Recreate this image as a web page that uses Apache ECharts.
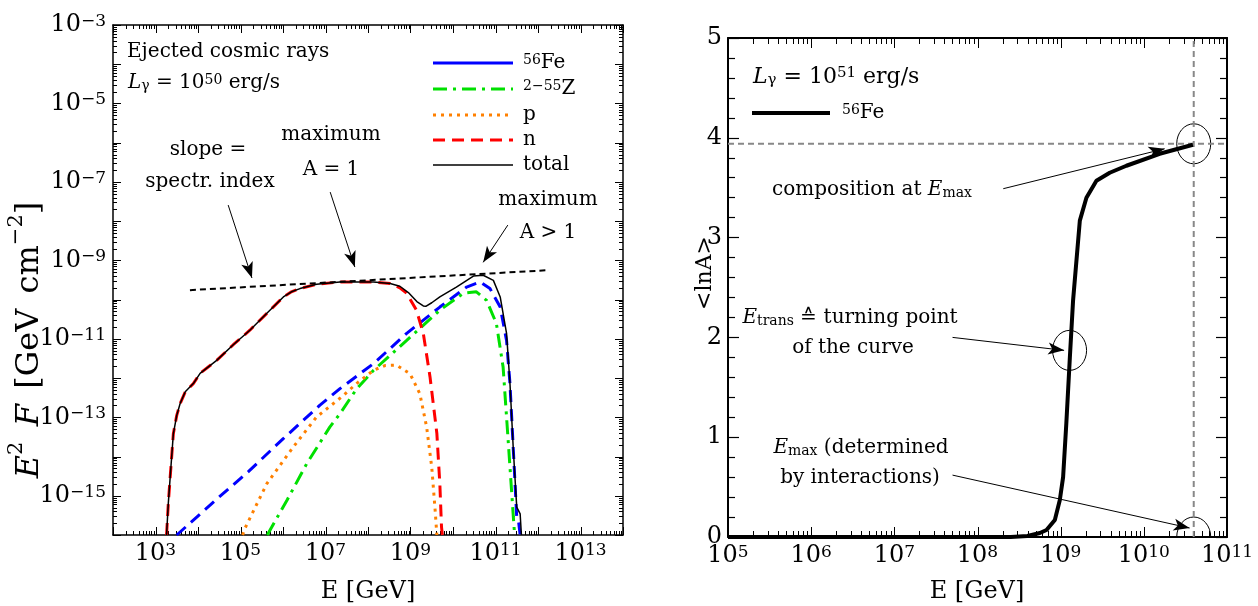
<!DOCTYPE html>
<html><head><meta charset="utf-8">
<script src="https://cdn.jsdelivr.net/npm/echarts@6/dist/echarts.min.js"></script>
<style>html,body{margin:0;padding:0;background:#fff}#c{width:1258px;height:606px}</style>
</head><body><div id="c"></div>
<script>
const FONT = 'DejaVu Serif';

// ---------- Left panel: E [GeV] vs E^2 F [GeV cm^-2] ----------
const feData = [[3.16e3,1.0e-16],[3.16e4,9.33e-16],[1.51e5,4.07e-15],[1.0e6,2.82e-14],[7.41e6,2.04e-13],[2.19e7,5.37e-13],[1.35e8,2.34e-12],[8.13e8,1.38e-11],[4.90e9,6.46e-11],[2.09e10,2.09e-10],[4.37e10,2.82e-10],[7.41e10,1.91e-10],[1.29e11,6.46e-11],[1.82e11,9.12e-12],[2.19e11,7.24e-13],[2.63e11,1.45e-14],[3.16e11,2.82e-16],[3.47e11,2.34e-16],[3.80e11,1.0e-16]];
const zData = [[4.27e5,1.0e-16],[1.26e6,7.94e-16],[3.63e6,6.61e-15],[1.26e7,5.62e-14],[2.19e7,1.23e-13],[3.80e7,3.02e-13],[5.37e7,5.25e-13],[1.35e8,1.58e-12],[8.13e8,9.12e-12],[4.90e9,5.37e-11],[1.74e10,1.45e-10],[3.55e10,1.58e-10],[6.17e10,9.55e-11],[1.05e11,2.45e-11],[1.51e11,1.91e-12],[1.82e11,1.02e-13],[2.19e11,5.37e-15],[2.63e11,2.88e-16],[2.82e11,1.0e-16]];
const pData = [[1.12e5,1.0e-16],[1.26e5,1.45e-16],[4.17e5,2.04e-15],[1.74e6,1.74e-14],[6.17e6,1.02e-13],[2.40e7,3.31e-13],[5.37e7,7.24e-13],[1.35e8,1.58e-12],[2.51e8,2.09e-12],[4.68e8,2.14e-12],[9.77e8,1.29e-12],[1.66e9,3.98e-13],[2.40e9,5.62e-14],[3.16e9,5.37e-15],[3.80e9,4.27e-16],[4.17e9,1.0e-16]];
const nData = [[1.82e3,1.0e-16],[2.0e3,6.31e-16],[2.19e3,2.51e-15],[2.63e3,3.80e-14],[3.16e3,1.12e-13],[3.80e3,2.24e-13],[5.01e3,4.47e-13],[7.76e3,7.24e-13],[1.12e4,1.32e-12],[2.75e4,2.82e-12],[6.76e4,7.08e-12],[1.66e5,1.66e-11],[4.17e5,4.47e-11],[1.02e6,1.17e-10],[1.58e6,1.58e-10],[2.51e6,1.91e-10],[6.17e6,2.45e-10],[2.19e7,2.82e-10],[1.35e8,2.82e-10],[3.31e8,2.57e-10],[5.62e8,2.0e-10],[8.13e8,1.45e-10],[1.38e9,5.37e-11],[2.0e9,1.38e-11],[2.88e9,1.07e-12],[4.17e9,3.89e-14],[4.90e9,2.04e-15],[5.37e9,1.58e-16],[5.62e9,1.0e-16]];
const totalData = [[1.82e3,1.0e-16],[2.0e3,6.31e-16],[2.19e3,2.51e-15],[2.63e3,3.80e-14],[3.16e3,1.12e-13],[3.80e3,2.24e-13],[5.01e3,4.47e-13],[7.76e3,7.24e-13],[1.12e4,1.32e-12],[2.75e4,2.82e-12],[6.76e4,7.08e-12],[1.66e5,1.66e-11],[4.17e5,4.47e-11],[1.02e6,1.17e-10],[1.58e6,1.58e-10],[2.51e6,1.91e-10],[6.17e6,2.45e-10],[2.19e7,2.82e-10],[1.35e8,2.82e-10],[3.31e8,2.57e-10],[5.62e8,2.19e-10],[8.91e8,1.51e-10],[1.41e9,8.91e-11],[2.0e9,6.92e-11],[2.29e9,6.76e-11],[3.16e9,8.32e-11],[4.90e9,1.17e-10],[1.2e10,2.09e-10],[3.02e10,3.98e-10],[5.13e10,4.17e-10],[8.91e10,3.09e-10],[1.29e11,1.17e-10],[1.82e11,1.38e-11],[2.19e11,7.24e-13],[2.63e11,1.45e-14],[3.16e11,5.13e-16],[3.80e11,3.47e-16],[4.07e11,1.0e-16]];
const slopeData = [[6.46e3,1.74e-10],[1.74e12,5.62e-10]];
const leftArrows = [[[5.13e4,2.57e-8],[1.86e5,3.55e-10]],[[1.29e7,5.5e-8],[4.90e7,6.76e-10]],[[1.95e11,7.94e-9],[5.13e10,8.91e-10]]];
const leftLegend = ['{sup|56}{r|Fe}','{sup|2−55}{r|Z}','{r|p}','{r|n}','{r|total}'];

// ---------- Right panel: E [GeV] vs <lnA> ----------
const lnAData = [[1e5,0],[2.51e8,0],[3.98e8,0.01],[5.62e8,0.04],[6.76e8,0.07],[8.51e8,0.17],[9.77e8,0.37],[1.07e9,0.60],[1.17e9,1.14],[1.29e9,1.80],[1.41e9,2.37],[1.70e9,3.17],[2.04e9,3.40],[2.69e9,3.57],[3.89e9,3.65],[6.17e9,3.72],[1.55e10,3.84],[3.89e10,3.93]];
const lnAmaxLevel = 3.94;
const eMax = 3.98e10;
const circles = [[3.98e10,3.94],[1.28e9,1.87],[3.98e10,0]];
const rightArrows = [[[2.04e8,3.49],[1.78e10,3.89]],[[5.01e7,2.00],[1.10e9,1.87]],[[5.01e7,0.62],[3.55e10,0.09]]];

// ---------- helpers ----------
const richTick = {
  b:{fontFamily:FONT,fontSize:24,color:'#000'},
  s:{fontFamily:FONT,fontSize:17,color:'#000',verticalAlign:'top',lineHeight:6}
};
function powLabel(v, oddOnly){
  const e = Math.round(Math.log10(v));
  if (oddOnly && Math.abs(e)%2===0) return '';
  return '{b|10}{s|' + (e<0 ? '−'+(-e) : e) + '}';
}
function logAxis(grid, pos, min, max, label, oddOnly, lw){
  return {type:'log', logBase:10, gridIndex:grid, position:pos, min:min, max:max, interval:1,
    axisLine:{show:true,onZero:false,lineStyle:{color:'#000',width:lw}},
    axisTick:{show:false},
    axisLabel:{show:label,interval:0,margin:7,formatter:v=>powLabel(v,oddOnly),rich:richTick},
    splitLine:{show:false}, minorTick:{show:false}, minorSplitLine:{show:false}};
}
function valAxis(grid,pos,label){
  return {type:'value', gridIndex:grid, position:pos, min:0, max:5, interval:1,
    axisLine:{show:true,onZero:false,lineStyle:{color:'#000',width:2}},
    axisTick:{show:true,inside:true,length:11,lineStyle:{color:'#000',width:1.2}},
    minorTick:{show:true,splitNumber:5,length:7,lineStyle:{color:'#000',width:1.2}},
    axisLabel:{show:label,margin:6,fontFamily:FONT,fontSize:24,color:'#000'},
    splitLine:{show:false}};
}
// log tick values (decades and 2..9 sub-ticks)
function logTicks(d0,d1){ const t=[]; for(let d=d0;d<=d1;d++){ for(let k=1;k<10;k++){ if(d===d1&&k>1) break; t.push([k*Math.pow(10,d),k===1]); } } return t; }
const xTicksL = logTicks(2,14), yTicksL = logTicks(-16,-3), xTicksR = logTicks(5,11);

function arrowLines(list){
  return {silent:true, symbol:['none','arrow'], symbolSize:[9,16], animation:false,
    lineStyle:{color:'#000',width:1,type:'solid'}, label:{show:false}, emphasis:{disabled:true},
    data:list.map(a=>[{coord:a[0]},{coord:a[1]}])};
}
const ann = {
  r:{fontFamily:FONT,fontSize:20,color:'#000'},
  i:{fontFamily:FONT,fontSize:20,fontStyle:'italic',color:'#000'},
  sub:{fontFamily:FONT,fontSize:14,color:'#000',verticalAlign:'bottom'},
  sup:{fontFamily:FONT,fontSize:14,color:'#000',verticalAlign:'top',lineHeight:8},
  R:{fontFamily:FONT,fontSize:22,color:'#000'},
  I:{fontFamily:FONT,fontSize:22,fontStyle:'italic',color:'#000'},
  SUB:{fontFamily:FONT,fontSize:15,color:'#000',verticalAlign:'bottom'},
  SUP:{fontFamily:FONT,fontSize:15,color:'#000',verticalAlign:'top',lineHeight:8},
  A:{fontFamily:FONT,fontSize:24,color:'#000'},
  Y:{fontFamily:FONT,fontSize:32,color:'#000'},
  W:{fontFamily:FONT,fontSize:48,color:'#000'},
  YI:{fontFamily:FONT,fontSize:32,fontStyle:'italic',color:'#000'},
  YS:{fontFamily:FONT,fontSize:21,color:'#000',verticalAlign:'top',lineHeight:8},
  L:{fontFamily:FONT,fontSize:22,color:'#000'}
};
function txt(x,y,text,align,rot){
  return {type:'text',x:x,y:y,rotation:rot||0,silent:true,
    style:{text:text,rich:ann,align:align||'center',verticalAlign:'middle',fill:'#000'}};
}
const legColors=['#0000ff','#00e000','#ff8000','#ff0000','#000000'];
const legDash=[null,[14,6,3,6],[3,5],[12,7],null];
const legWidth=[3,3,3,3,1.5];
const legY=[63,89,115,140,165];
const graphics=[];
legY.forEach((y,i)=>{
  graphics.push({type:'line',silent:true,shape:{x1:433,y1:y,x2:513,y2:y},
    style:{stroke:legColors[i],lineWidth:legWidth[i],lineDash:legDash[i]||null}});
  graphics.push(txt(523,y,leftLegend[i],'left'));
});
graphics.push(
  txt(127,52,'{r|Ejected cosmic rays}','left'),
  txt(128,83,'{i|L}{sub|γ}{r| = 10}{sup|50}{r| erg/s}','left'),
  txt(208,150,'{r|slope =}'),
  txt(210,182,'{r|spectr. index}'),
  txt(331,135,'{r|maximum}'),
  txt(331,170,'{r|A = 1}'),
  txt(548,200,'{r|maximum}'),
  txt(548,233,'{r|A > 1}'),
  txt(753,77,'{I|L}{SUB|γ}{R| = 10}{SUP|51}{R| erg/s}','left'),
  {type:'line',silent:true,shape:{x1:752,y1:113,x2:830,y2:113},style:{stroke:'#000',lineWidth:4}},
  txt(842,113,'{sup|56}{r|Fe}','left'),
  txt(872,190,'{r|composition at }{i|E}{sub|max}'),
  txt(850,318,'{i|E}{sub|trans}{r| ≙ turning point}'),
  txt(853,348,'{r|of the curve}'),
  txt(861,448,'{i|E}{sub|max}{r| (determined}'),
  txt(860,478,'{r|by interactions)}'),
  txt(368,592,'{A|E [GeV]}'),
  txt(977,592,'{A|E [GeV]}'),
  txt(30,340,'{YI|E}{YS|2}{W| }{YI|F}{W| }{Y|[GeV}{W| }{Y|cm}{YS|−2}{Y|]}','center',Math.PI/2),
  txt(705,273,'{L|<lnA>}','center',Math.PI/2)
);

const chart = echarts.init(document.getElementById('c'), null, {renderer:'canvas'});
chart.setOption({
  animation:false,
  backgroundColor:'#fff',
  grid:[{left:113,top:25,width:510,height:510},{left:728,top:38,width:499,height:499}],
  xAxis:[logAxis(0,'bottom',1e2,1e14,true,true,1.5), logAxis(0,'top',1e2,1e14,false,true,1.5),
         logAxis(1,'bottom',1e5,1e11,true,false,2), logAxis(1,'top',1e5,1e11,false,false,2)],
  yAxis:[logAxis(0,'left',1e-16,1e-3,true,true,1.5), logAxis(0,'right',1e-16,1e-3,false,true,1.5),
         valAxis(1,'left',true), valAxis(1,'right',false)],
  series:[
    {name:'Fe',type:'line',xAxisIndex:0,yAxisIndex:0,data:feData,showSymbol:false,symbol:'none',
      lineStyle:{color:'#0000ff',width:3,type:[12,7]}},
    {name:'Z',type:'line',xAxisIndex:0,yAxisIndex:0,data:zData,showSymbol:false,symbol:'none',
      lineStyle:{color:'#00e000',width:3,type:[14,6,3,6]}},
    {name:'p',type:'line',xAxisIndex:0,yAxisIndex:0,data:pData,showSymbol:false,symbol:'none',
      lineStyle:{color:'#ff8000',width:3,type:[3,5]}},
    {name:'n',type:'line',xAxisIndex:0,yAxisIndex:0,data:nData,showSymbol:false,symbol:'none',
      lineStyle:{color:'#ff0000',width:3,type:[12,7]}},
    {name:'total',type:'line',xAxisIndex:0,yAxisIndex:0,data:totalData,showSymbol:false,symbol:'none',
      lineStyle:{color:'#000',width:1.5}, markLine:arrowLines(leftArrows)},
    {name:'slope',type:'line',xAxisIndex:0,yAxisIndex:0,data:slopeData,showSymbol:false,symbol:'none',
      lineStyle:{color:'#000',width:2,type:[6,4]}},
    {name:'hline',type:'line',xAxisIndex:2,yAxisIndex:2,data:[[1e5,lnAmaxLevel],[1e11,lnAmaxLevel]],showSymbol:false,symbol:'none',
      lineStyle:{color:'#888',width:2,type:[6,4]}},
    {name:'vline',type:'line',xAxisIndex:2,yAxisIndex:2,data:[[eMax,0],[eMax,5]],showSymbol:false,symbol:'none',
      lineStyle:{color:'#888',width:2,type:[6,4]}},
    {name:'56Fe',type:'line',xAxisIndex:2,yAxisIndex:2,data:lnAData,showSymbol:false,symbol:'none',
      lineStyle:{color:'#000',width:4}, markLine:arrowLines(rightArrows)},
    {type:'custom',xAxisIndex:2,yAxisIndex:2,data:circles,silent:true,clip:true,
      renderItem:function(params,api){
        const p = api.coord([api.value(0),api.value(1)]);
        return {type:'ellipse',shape:{cx:p[0],cy:p[1],rx:17,ry:20},style:{fill:'none',stroke:'#000',lineWidth:1}};
      }}
  ]
});

// axis ticks on all four sides, positioned through the axes' own scales
function addTicks(xIdx, yIdx, xt, yt, rect, majL, minL){
  const st = {stroke:'#000', lineWidth:1};
  if (xt) xt.forEach(t=>{
    const px = Math.round(chart.convertToPixel({xAxisIndex:xIdx}, t[0]))+0.5;
    const L = t[1]?majL:minL;
    graphics.push({type:'line',silent:true,shape:{x1:px,y1:rect.y+rect.h,x2:px,y2:rect.y+rect.h-L},style:st});
    graphics.push({type:'line',silent:true,shape:{x1:px,y1:rect.y,x2:px,y2:rect.y+L},style:st});
  });
  if (yt) yt.forEach(t=>{
    const py = Math.round(chart.convertToPixel({yAxisIndex:yIdx}, t[0]))+0.5;
    const L = t[1]?majL:minL;
    graphics.push({type:'line',silent:true,shape:{x1:rect.x,y1:py,x2:rect.x+L,y2:py},style:st});
    graphics.push({type:'line',silent:true,shape:{x1:rect.x+rect.w,y1:py,x2:rect.x+rect.w-L,y2:py},style:st});
  });
}
addTicks(0,0,xTicksL,yTicksL,{x:113,y:25,w:510,h:510},8,4);
addTicks(2,2,xTicksR,null,{x:728,y:38,w:499,h:499},10,6);
chart.setOption({graphic:graphics});
</script></body></html>
